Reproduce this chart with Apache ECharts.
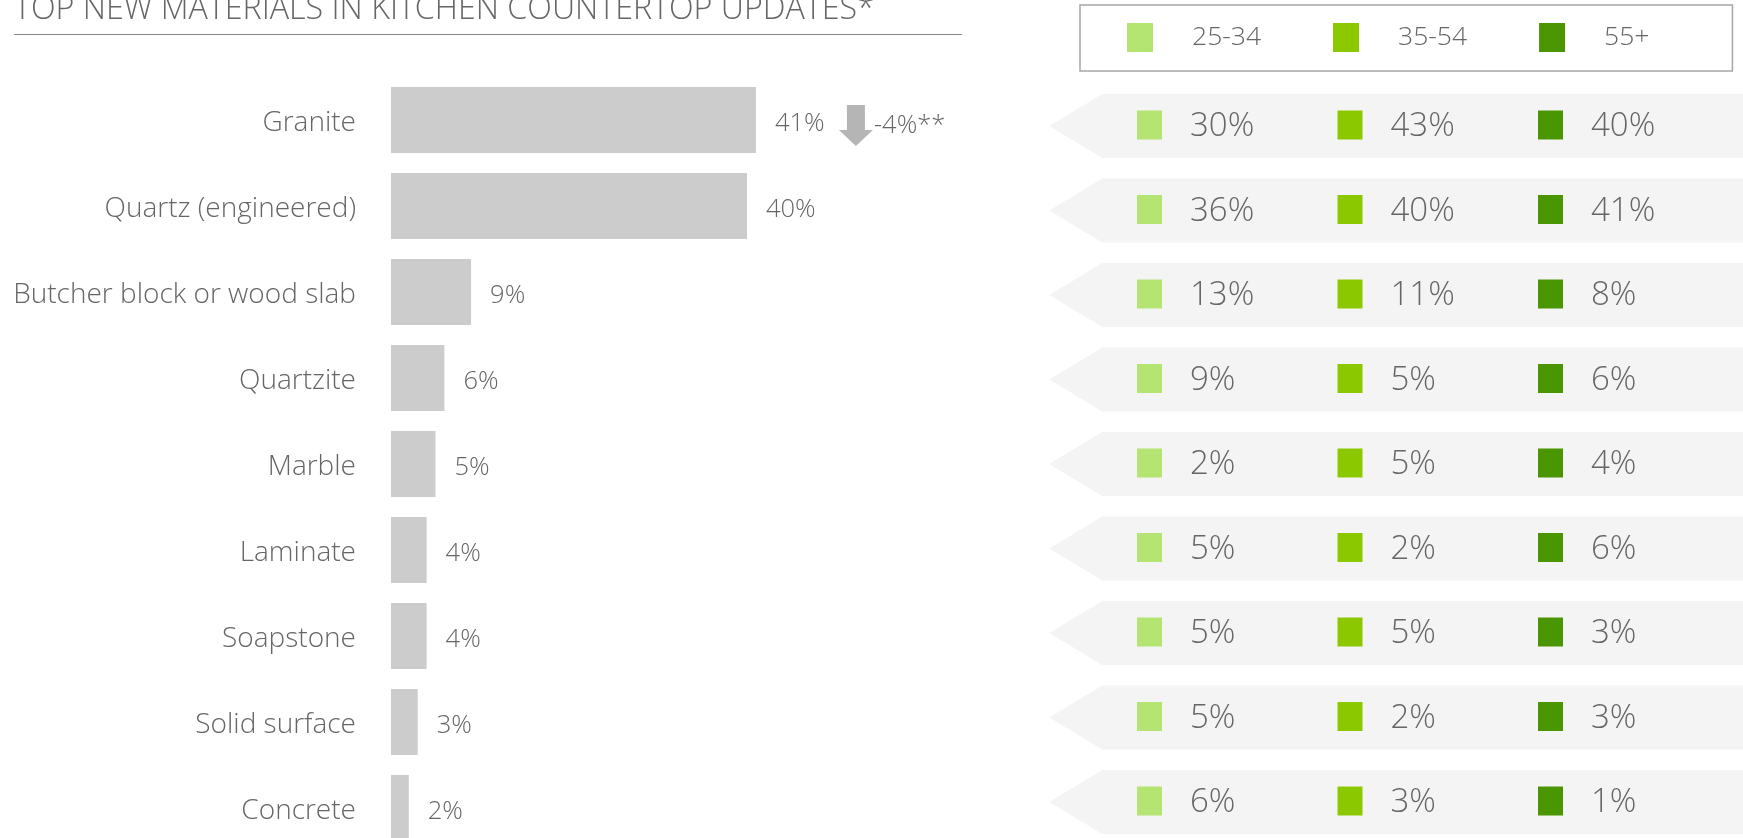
<!DOCTYPE html>
<html>
<head>
<meta charset="utf-8">
<style>
  html, body { margin: 0; padding: 0; background: #ffffff; }
  #chart { width: 1743px; height: 838px; }
</style>
<script src="https://cdn.jsdelivr.net/npm/echarts@6/dist/echarts.min.js"></script>
</head>
<body>
<div id="chart"></div>
<script>
const titleText = 'TOP NEW MATERIALS IN KITCHEN COUNTERTOP UPDATES*';
const categories = ['Granite', 'Quartz (engineered)', 'Butcher block or wood slab', 'Quartzite', 'Marble', 'Laminate', 'Soapstone', 'Solid surface', 'Concrete'];
const overall = [41, 40, 9, 6, 5, 4, 4, 3, 2];
const ageGroups = ['25-34', '35-54', '55+'];
const age25to34 = [30, 36, 13, 9, 2, 5, 5, 5, 6];
const age35to54 = [43, 40, 11, 5, 5, 2, 5, 2, 3];
const age55plus = [40, 41, 8, 6, 4, 6, 3, 3, 1];
const changeCategories = ['Granite'];
const changeLabels = ['-4%**'];

const FONT = '"Open Sans", Lato, sans-serif';
const WEIGHT = 300;
const TEXT = '#666666';
const ageColors = ['#b4e573', '#8cc800', '#4a9600'];
const ageValues = [age25to34, age35to54, age55plus];

const chart = echarts.init(document.getElementById('chart'), null, { renderer: 'canvas' });

const ageSeries = ageGroups.map((g, gi) => ({
  name: g,
  type: 'scatter',
  xAxisIndex: 1,
  yAxisIndex: 1,
  symbol: 'rect',
  symbolSize: [25, 29],
  symbolOffset: [0, -1],
  itemStyle: { color: ageColors[gi], opacity: 1 },
  z: 5,
  silent: true,
  label: {
    show: true,
    position: 'right',
    distance: 28,
    fontFamily: FONT,
    fontWeight: WEIGHT,
    fontSize: 33,
    color: TEXT,
    offset: [0, 2],
    formatter: p => p.value[2] + '%'
  },
  data: categories.map((c, i) => [g, c, ageValues[gi][i]])
}));

const option = {
  backgroundColor: '#ffffff',
  animation: false,
  title: {
    text: titleText,
    left: 14,
    top: -6.5,
    padding: 0,
    textStyle: { fontFamily: FONT, fontWeight: WEIGHT, fontSize: 32.2, color: TEXT }
  },
  graphic: [{
    type: 'line',
    shape: { x1: 14, y1: 34.5, x2: 962, y2: 34.5 },
    style: { stroke: '#888888', lineWidth: 1.2 },
    silent: true
  }],
  legend: {
    data: ageGroups.map(g => ({ name: g, icon: 'rect' })),
    left: 1080,
    top: 5,
    orient: 'horizontal',
    itemWidth: 26,
    itemHeight: 29,
    itemGap: 72,
    padding: [18, 83, 19, 47],
    borderColor: '#a6a6a6',
    borderWidth: 1.5,
    selectedMode: false,
    itemStyle: { opacity: 1 },
    textStyle: { fontFamily: FONT, fontWeight: WEIGHT, fontSize: 26.5, color: TEXT, padding: [4, 0, 0, 34] }
  },
  grid: [
    { left: 391, top: 77, width: 534, height: 774, outerBoundsMode: 'none', containLabel: false },
    { left: 1049.25, top: 83.75, width: 601.5, height: 760.5, outerBoundsMode: 'none', containLabel: false }
  ],
  xAxis: [
    { type: 'value', gridIndex: 0, min: 0, max: 60, show: false },
    { type: 'category', gridIndex: 1, data: ageGroups, show: false }
  ],
  yAxis: [
    {
      type: 'category', gridIndex: 0, data: categories, inverse: true,
      axisLine: { show: false }, axisTick: { show: false }, splitLine: { show: false },
      axisLabel: { fontFamily: FONT, fontWeight: WEIGHT, fontSize: 28, color: TEXT, margin: 35, verticalAlign: 'top', lineHeight: 7 }
    },
    { type: 'category', gridIndex: 1, data: categories, inverse: true, show: false }
  ],
  series: [
    {
      name: 'All',
      type: 'bar',
      xAxisIndex: 0,
      yAxisIndex: 0,
      barWidth: 66,
      itemStyle: { color: '#cccccc' },
      silent: true,
      label: {
        show: true,
        position: 'right',
        distance: 19,
        offset: [0, 4],
        fontFamily: FONT,
        fontWeight: WEIGHT,
        fontSize: 25.5,
        color: TEXT,
        formatter: '{c}%'
      },
      data: overall
    },
    {
      name: 'Change',
      type: 'scatter',
      xAxisIndex: 0,
      yAxisIndex: 0,
      symbol: 'path://M8,0 L26,0 L26,25 L34,25 L17,41 L0,25 L8,25 Z',
      symbolSize: [34, 41],
      symbolOffset: [100, 5.5],
      itemStyle: { color: '#b5b5b5', opacity: 1 },
      silent: true,
      label: {
        show: true,
        position: 'right',
        distance: 1,
        offset: [0, 0],
        fontFamily: FONT,
        fontWeight: WEIGHT,
        fontSize: 25.5,
        color: TEXT,
        formatter: p => p.data.label
      },
      data: changeCategories.map((c, i) => ({
        value: [overall[categories.indexOf(c)], c],
        label: changeLabels[i]
      }))
    },
    {
      name: 'Band',
      type: 'custom',
      xAxisIndex: 1,
      yAxisIndex: 1,
      silent: true,
      z: 1,
      renderItem: (params, api) => {
        const pt = api.coord([api.value(0), api.value(1)]);
        const x0 = params.coordSys.x;
        const right = api.getWidth();
        const h = 64;
        const top = pt[1] - h / 2;
        const bot = pt[1] + h / 2;
        return {
          type: 'polygon',
          shape: { points: [[x0, pt[1]], [x0 + 53, top], [right, top], [right, bot], [x0 + 53, bot]] },
          style: { fill: '#f4f4f4' }
        };
      },
      data: categories.map(c => [ageGroups[0], c])
    },
    ...ageSeries
  ]
};

chart.setOption(option);
</script>
</body>
</html>
